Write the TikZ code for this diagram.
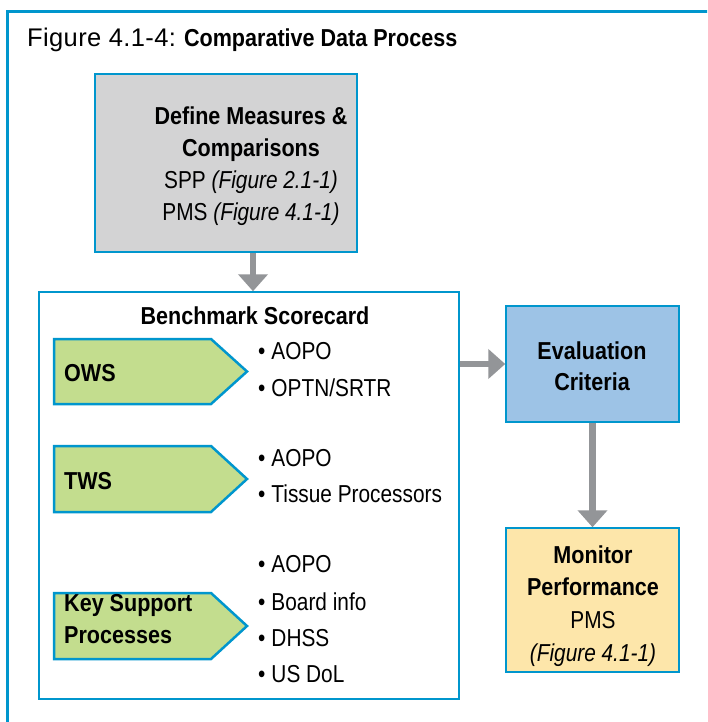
\documentclass[tikz,border=0pt]{standalone}
\usepackage{fontspec}
\setmainfont{Liberation Sans}[FakeStretch=0.85, BoldFeatures={FakeStretch=0.88}]
\newfontfamily\titlereg{Liberation Sans}[LetterSpace=1.5]
\usetikzlibrary{arrows.meta}
\definecolor{frameblue}{RGB}{0,150,205}
\definecolor{boxgray}{RGB}{211,211,212}
\definecolor{arrowgray}{RGB}{147,149,152}
\definecolor{pentgreen}{RGB}{195,221,142}
\definecolor{evalblue}{RGB}{157,195,230}
\definecolor{monyellow}{RGB}{253,230,170}
\tikzset{
  box/.style={draw=frameblue, line width=2.5pt, inner sep=0pt},
  pent/.style={draw=frameblue, line width=2.5pt, fill=pentgreen, line join=miter},
  txt/.style={inner sep=0pt, font=\fontsize{24.5}{32}\selectfont, text=black},
  ttl/.style={inner sep=0pt, font=\fontsize{24.5}{30}\selectfont, text=black},
  conn/.style={draw=arrowgray, line width=6.5pt, -{Triangle[width=29pt,length=17pt]}, shorten >=-0.5pt},
}
\begin{document}
\begin{tikzpicture}[x=1pt,y=-1pt]
\useasboundingbox (0,0) rectangle (707,722);
\clip (0,0) rectangle (707,722);
\fill[white] (0,0) rectangle (707,722);
% outer frame (right and bottom edges lie outside the picture)
\draw[frameblue, line width=3pt] (720,12) -- (7,12) -- (7,740);
\node[ttl, anchor=base west] (title) at (27,47) {{\titlereg\fontsize{25.5}{30}\selectfont Figure 4.1-4:} \textbf{Comparative Data Process}};
% define box
\node[box, fill=boxgray, minimum width=262pt, minimum height=178pt] (def) at (226,163) {};
\node[txt, anchor=base] (d1) at (251,125) {\bfseries Define Measures \&};
\node[txt, anchor=base] (d2) at (251,157) {\bfseries Comparisons};
\node[txt, anchor=base] (d3) at (251,189) {SPP \textit{(Figure 2.1-1)}};
\node[txt, anchor=base] (d4) at (251,220) {PMS \textit{(Figure 4.1-1)}};
% benchmark box
\node[box, fill=white, minimum width=420pt, minimum height=407pt] (bench) at (249,495.5) {};
\node[txt, anchor=base] (bt) at (255,324) {\bfseries Benchmark Scorecard};
% pentagons
\draw[pent] (54,339) -- (211,339) -- (247,371.5) -- (211,404) -- (54,404) -- cycle;
\draw[pent] (54,446) -- (211,446) -- (247,479) -- (211,512) -- (54,512) -- cycle;
\draw[pent] (54,593) -- (211,593) -- (247,626) -- (211,659) -- (54,659) -- cycle;
\node[txt, anchor=base west] (ows) at (64,381) {\bfseries OWS};
\node[txt, anchor=base west] (tws) at (64,489) {\bfseries TWS};
\node[txt, anchor=base west] (ks1) at (64,611) {\bfseries Key Support};
\node[txt, anchor=base west] (ks2) at (64,643) {\bfseries Processes};
% bullets
\foreach \yy/\tt [count=\i] in {359/AOPO, 396/OPTN\slash SRTR, 466/AOPO, 502/Tissue Processors, 572/AOPO, 610/Board info, 646/DHSS, 682/US DoL}{
  \node[txt, anchor=base west] (b\i) at (258,\yy) {\textbullet\hspace{6pt}\tt};
}
% evaluation box
\node[box, fill=evalblue, minimum width=173pt, minimum height=116pt] (eval) at (592.5,364) {};
\node[txt, anchor=base] (e1) at (592,359) {\bfseries Evaluation};
\node[txt, anchor=base] (e2) at (592,390) {\bfseries Criteria};
% monitor box
\node[box, fill=monyellow, minimum width=173pt, minimum height=144pt] (mon) at (592.5,600) {};
\node[txt, anchor=base] (m1) at (593,563) {\bfseries Monitor};
\node[txt, anchor=base] (m2) at (593,595) {\bfseries Performance};
\node[txt, anchor=base] (m3) at (593,628) {PMS};
\node[txt, anchor=base] (m4) at (593,661) {\itshape (Figure 4.1-1)};
% connectors
\coordinate (ax) at (253,0);
\draw[conn] (def.south -| ax) -- (bench.north -| ax);
\draw[conn] (bench.east |- eval.west) -- (eval.west);
\draw[conn] (eval.south) -- (mon.north);
\end{tikzpicture}
\end{document}
